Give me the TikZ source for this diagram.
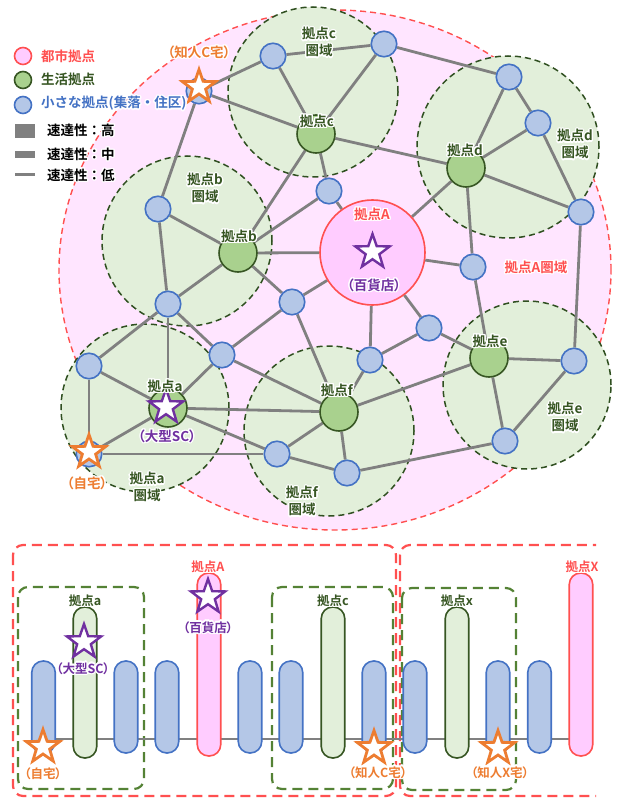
\documentclass[tikz,border=0pt]{standalone}
\usepackage{fontspec}
\setmainfont{Noto Sans CJK JP}[BoldFont={Noto Sans CJK JP Bold}]
\newfontfamily\propfont{Noto Sans CJK JP}[BoldFont={Noto Sans CJK JP Bold},RawFeature=+palt]
\usepackage{contour}
\contourlength{1.3pt}
\usetikzlibrary{shapes.geometric}

\definecolor{regionpink}{HTML}{FFE5FF}
\definecolor{citypink}{HTML}{FFCCFF}
\definecolor{cityred}{HTML}{FF5050}
\definecolor{zonegreen}{HTML}{E2EFDA}
\definecolor{zoneline}{HTML}{2F4F20}
\definecolor{lifegreen}{HTML}{A9D18E}
\definecolor{lifeline}{HTML}{375623}
\definecolor{smallblue}{HTML}{B4C7E7}
\definecolor{smallline}{HTML}{4472C4}
\definecolor{linkgray}{HTML}{808080}
\definecolor{starpurple}{HTML}{7030A0}
\definecolor{starorange}{HTML}{ED7D31}
\definecolor{barframe}{HTML}{548235}

% white outline around label text
\newcommand{\halo}[1]{\contour{white}{#1}}

\pgfdeclarelayer{zones}
\pgfdeclarelayer{links}
\pgfsetlayers{zones,links,main}

\tikzset{
  small/.style={circle, fill=smallblue, draw=smallline, line width=1.6pt, minimum size=25.5pt, inner sep=0pt},
  life/.style={circle, fill=lifegreen, draw=lifeline, line width=1.6pt, minimum size=38pt, inner sep=0pt},
  city/.style={circle, fill=citypink, draw=cityred, line width=1.6pt, minimum size=105pt, inner sep=0pt},
  cityzone/.style={fill=regionpink, draw=cityred, line width=1.4pt, dash pattern=on 6pt off 4pt},
  zone/.style={fill=zonegreen, draw=zoneline, line width=1.5pt, dash pattern=on 6pt off 4pt},
  link/.style={draw=linkgray, line width=2.8pt},
  pstar/.style={star, star points=5, star point ratio=2.5, minimum size=36pt, inner sep=0pt, fill=white, draw=starpurple, line width=2.4pt},
  ostar/.style={star, star points=5, star point ratio=2.5, minimum size=35pt, inner sep=0pt, fill=white, draw=starorange, line width=2.8pt},
  txt/.style={font=\bfseries\fontsize{13.5}{17}\selectfont, inner sep=0pt, align=center},
  ptxt/.style={font=\propfont\bfseries\fontsize{13.5}{17}\selectfont, inner sep=0pt, align=center},
  legtxt/.style={font=\bfseries\fontsize{13.5}{16}\selectfont, inner sep=0pt, anchor=west},
  btxt/.style={font=\bfseries\fontsize{12.5}{15}\selectfont, inner sep=0pt, align=center},
  bptxt/.style={font=\propfont\bfseries\fontsize{12.5}{15}\selectfont, inner sep=0pt, align=center},
  bar/.style={rectangle, rounded corners=11.5pt, minimum width=23.5pt, inner sep=0pt, line width=1.6pt},
  bluebar/.style={bar, fill=smallblue, draw=smallline, minimum height=92pt},
  greenbar/.style={bar, fill=zonegreen, draw=lifeline, minimum height=151pt},
  pinkbar/.style={bar, fill=citypink, draw=cityred, minimum height=183pt},
  redframe/.style={draw=cityred, line width=2.2pt, dash pattern=on 10pt off 6pt, rounded corners=10pt},
  greenframe/.style={draw=barframe, line width=2.2pt, dash pattern=on 10pt off 6pt, rounded corners=10pt},
}

\begin{document}
\begin{tikzpicture}[x=1pt,y=-1pt]
\useasboundingbox (0,0) rectangle (617,799);

% ---------- areas of influence ----------
\begin{pgfonlayer}{zones}
  \draw[cityzone] (335,270) ellipse[x radius=276pt, y radius=260pt];
  \draw[zone] (313,92)  circle[radius=85pt];
  \draw[zone] (508,147) circle[radius=91pt];
  \draw[zone] (187,241) circle[radius=85pt];
  \draw[zone] (145,408) circle[radius=84pt];
  \draw[zone] (329,431) circle[radius=85pt];
  \draw[zone] (527,385) circle[radius=84pt];
\end{pgfonlayer}

% ---------- hubs ----------
\node[city] (A) at (372.5,252.5) {};
\node[life] (lc) at (316,134) {};
\node[life] (ld) at (466,168) {};
\node[life] (lb) at (238,253) {};
\node[life] (la) at (168,408) {};
\node[life] (lf) at (339,412) {};
\node[life] (le) at (489,358) {};

% ---------- small settlements ----------
\node[small] (kC)   at (199,91)  {};
\node[small] (c1)   at (273,56)  {};
\node[small] (c2)   at (384,44)  {};
\node[small] (d1)   at (509,77)  {};
\node[small] (d2)   at (538,123) {};
\node[small] (d3)   at (581,212) {};
\node[small] (cA)   at (329,191) {};
\node[small] (b1)   at (158,209) {};
\node[small] (b2)   at (168,304) {};
\node[small] (bA)   at (292,302) {};
\node[small] (m1)   at (222,355) {};
\node[small] (a1)   at (89,366)  {};
\node[small] (home) at (89,454)  {};
\node[small] (f1)   at (277,454) {};
\node[small] (f2)   at (347,473) {};
\node[small] (fA)   at (370,360) {};
\node[small] (eA)   at (429,328) {};
\node[small] (dA)   at (473,267) {};
\node[small] (e1)   at (574,361) {};
\node[small] (e2)   at (505,441) {};

% ---------- road links ----------
\begin{pgfonlayer}{links}
  \foreach \u/\v in {kC/c1, kC/lc, kC/b1, c1/c2, c1/lc, c2/lc, c2/d1, lc/ld, lc/cA, lc/lb,
                     cA/A, cA/lb, d1/ld, d1/d2, d2/ld, d2/d3, ld/d3, ld/A, ld/dA, d3/e1,
                     b1/lb, b1/b2, lb/b2, lb/A, lb/bA, bA/A, b2/a1, b2/la, b2/m1, m1/bA,
                     bA/lf, m1/la, m1/lf, a1/la, a1/home, home/la, home/f1, la/lf, la/f1,
                     f1/lf, f1/f2, lf/f2, lf/le, lf/fA, fA/A, fA/eA, eA/A, eA/le, A/dA,
                     dA/le, le/e1, le/e2, e1/e2, f2/e2}
    \draw[link] (\u) -- (\v);
\end{pgfonlayer}

% ---------- destinations ----------
\node[pstar] (starA) at (372.5,252) {};
\node[pstar] (starSC) at (166,407) {};
\node[ostar] (starC) at (199,87) {};
\node[ostar] (starHome) at (89,452) {};

% ---------- labels ----------
\node[txt, text=cityred] (labA) at (372,215) {\halo{拠点A}};
\node[ptxt, text=starpurple] (labDept) at (374,286) {\halo{（百貨店）}};
\node[txt, text=lifeline] (labc) at (317,122) {\halo{拠点c}};
\node[txt, text=lifeline] (labd) at (465,151) {\halo{拠点d}};
\node[txt, text=lifeline] (labb) at (239,237) {\halo{拠点b}};
\node[txt, text=lifeline] (laba) at (165,387) {\halo{拠点a}};
\node[txt, text=lifeline] (labf) at (337,391) {\halo{拠点f}};
\node[txt, text=lifeline] (labe) at (490,342) {\halo{拠点e}};
\node[ptxt, text=starpurple] (labSC) at (167,437) {\halo{（大型SC）}};
\node[ptxt, text=starorange] (labHome) at (87,484) {\halo{（自宅）}};
\node[ptxt, text=starorange] (labC) at (199,53) {\halo{（知人C宅）}};

\node[txt, text=lifeline] (zc) at (319,43)  {\halo{拠点c}\\\halo{圏域}};
\node[txt, text=lifeline] (zd) at (575,145) {\halo{拠点d}\\\halo{圏域}};
\node[txt, text=lifeline] (zb) at (205,189) {\halo{拠点b}\\\halo{圏域}};
\node[txt, text=lifeline] (za) at (147,488) {\halo{拠点a}\\\halo{圏域}};
\node[txt, text=lifeline] (zf) at (302,502) {\halo{拠点f}\\\halo{圏域}};
\node[txt, text=lifeline] (ze) at (565,418) {\halo{拠点e}\\\halo{圏域}};
\node[txt, text=cityred] (zA) at (536,268) {\halo{拠点A圏域}};

% ---------- legend ----------
\node[circle, fill=citypink, draw=cityred, line width=1.6pt, minimum size=17pt, inner sep=0pt] (kp) at (23,56) {};
\node[circle, fill=lifegreen, draw=lifeline, line width=1.6pt, minimum size=17pt, inner sep=0pt] (kg) at (23,80) {};
\node[circle, fill=smallblue, draw=smallline, line width=1.6pt, minimum size=17pt, inner sep=0pt] (kb) at (23,105) {};
\node[legtxt, text=cityred] (kpt) at (41,57) {\halo{都市拠点}};
\node[legtxt, text=lifeline] (kgt) at (41,80) {\halo{生活拠点}};
\node[legtxt, text=smallline] (kbt) at (41,104) {\halo{小さな拠点(集落・住区)}};
\fill[linkgray] (15,124) rectangle (35,138);
\fill[linkgray] (15,151) rectangle (35,158);
\fill[linkgray] (15,173) rectangle (35,176);
\node[legtxt] (kh) at (47,131) {\halo{速達性：高}};
\node[legtxt] (km) at (47,155) {\halo{速達性：中}};
\node[legtxt] (kl) at (47,176) {\halo{速達性：低}};

% ---------- cross-section of the network ----------
\draw[redframe] (13,545) rectangle (396,796);
\begin{scope}
  \clip (398,530) rectangle (596,799);
  \draw[redframe] (400,545) rectangle (606,796);
\end{scope}
\draw[greenframe] (18,587) rectangle (144,789);
\draw[greenframe] (272,587) rectangle (393,789);
\draw[greenframe] (402,588) rectangle (516,790);

\coordinate (railL) at (43.5,739);
\coordinate (railR) at (581,739);
\draw[link, line width=2.6pt] (railL) -- (railR);

\node[bluebar]  (s1)  at (43.5,707) {};
\node[greenbar] (s2)  at (85,682.5) {};
\node[bluebar]  (s3)  at (126,707) {};
\node[bluebar]  (s4)  at (167,707) {};
\node[pinkbar]  (s5)  at (209,664.5) {};
\node[bluebar]  (s6)  at (250,707) {};
\node[bluebar]  (s7)  at (291,707) {};
\node[greenbar] (s8)  at (333,682.5) {};
\node[bluebar]  (s9)  at (374,707) {};
\node[bluebar]  (s10) at (415,707) {};
\node[greenbar] (s11) at (457,682.5) {};
\node[bluebar]  (s12) at (498,707) {};
\node[bluebar]  (s13) at (539.5,707) {};
\node[pinkbar]  (s14) at (581,664.5) {};

\node[btxt, text=lifeline] (bla) at (85,601) {\halo{拠点a}};
\node[btxt, text=cityred] (blA) at (208,567) {\halo{拠点A}};
\node[btxt, text=lifeline] (blc) at (333,601) {\halo{拠点c}};
\node[btxt, text=lifeline] (blx) at (457,601) {\halo{拠点x}};
\node[btxt, text=cityred] (blX) at (582,567) {\halo{拠点X}};

\node[pstar] (bsSC) at (84,642) {};
\node[bptxt, text=starpurple] (blSC) at (83,669) {\halo{（大型SC）}};
\node[pstar] (bsA) at (208,597) {};
\node[bptxt, text=starpurple] (blDept) at (208,628) {\halo{（百貨店）}};
\node[ostar] (bsHome) at (43,747) {};
\node[bptxt, text=starorange] (blHome) at (43,774) {\halo{（自宅）}};
\node[ostar] (bsC) at (374,748) {};
\node[bptxt, text=starorange] (blC) at (378,773) {\halo{（知人C宅）}};
\node[ostar] (bsX) at (498,748) {};
\node[bptxt, text=starorange] (blXh) at (500,773) {\halo{（知人X宅）}};
\end{tikzpicture}
\end{document}
